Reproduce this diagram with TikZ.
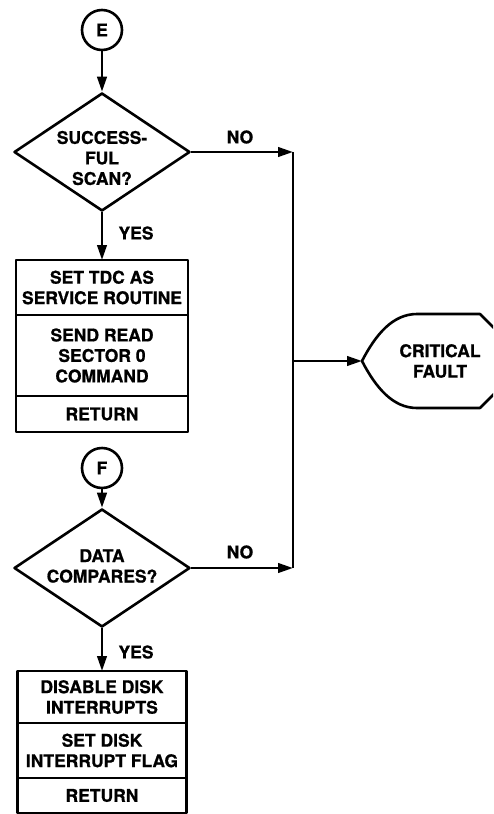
\documentclass[tikz,border=0pt]{standalone}
\usepackage{fontspec}
\setmainfont{TeX Gyre Heros}[BoldFeatures={FakeBold=0.8}]
\usetikzlibrary{shapes.geometric,arrows.meta}
\begin{document}
\begin{tikzpicture}[x=1pt,y=-1pt,
  line width=2.6pt, line join=round,
  txtfont/.style={font=\bfseries\fontsize{17.5}{20.5}\selectfont},
  lbl/.style={txtfont, align=center, inner sep=0pt},
  conn/.style={draw, circle, minimum size=40pt, inner sep=0pt, txtfont},
  dec/.style={draw, diamond, minimum width=176pt, minimum height=118pt, inner sep=0pt},
  cell/.style={draw, rectangle, inner sep=0pt, outer sep=0pt, align=center, txtfont},
  flow/.style={-{Triangle[length=15pt,width=9.5pt]}}
]
\clip (0,0) rectangle (493,814);

% ---- scan check (entry E) ----
\node[conn] (E) at (102,30) {E};
\node[dec] (d1) at (102,152) {};
\node[lbl] (d1t) at (102,158) {SUCCESS-\\FUL\\SCAN?};

\node[cell, minimum width=172pt, minimum height=55pt] (b1a) at (102,287.5) {SET TDC AS\\SERVICE ROUTINE};
\node[cell, minimum width=172pt, minimum height=81pt, anchor=north] (b1b) at (b1a.south) {SEND READ\\SECTOR 0\\COMMAND};
\node[cell, minimum width=172pt, minimum height=36pt, anchor=north] (b1c) at (b1b.south) {RETURN};

% ---- data compare (entry F) ----
\node[conn] (F) at (102,468) {F};
\node[dec] (d2) at (102,568) {};
\node[lbl] (d2t) at (102,566) {DATA\\COMPARES?};

\node[cell, minimum width=169pt, minimum height=52pt] (b2a) at (102,697) {DISABLE DISK\\INTERRUPTS};
\node[cell, minimum width=169pt, minimum height=55pt, anchor=north] (b2b) at (b2a.south) {SET DISK\\INTERRUPT FLAG};
\node[cell, minimum width=169pt, minimum height=35pt, anchor=north] (b2c) at (b2b.south) {RETURN};

% ---- critical fault terminal ----
\coordinate (cftip) at (362,361);
\draw (cftip) .. controls (376,334) and (393,314) .. (417,314) -- (480,314) -- (527,361)
      -- (480,408) -- (417,408) .. controls (393,408) and (376,388) .. (cftip) -- cycle;
\node[lbl] (cf) at (440,361) {CRITICAL\\FAULT};

% ---- collector line ----
\coordinate (j1) at (293,152);
\coordinate (j2) at (293,568);
\coordinate (jm) at (293,361);

% ---- connectors ----
\draw[flow] (E) -- (d1);
\draw[flow] (d1) -- (b1a);
\draw[flow] (F) -- (d2);
\draw[flow] (d2) -- (b2a);
\draw[flow] (d1.east) -- (j1);
\draw[flow] (d2.east) -- (j2);
\draw (j1) -- (j2);
\draw[flow] (jm) -- (cftip);

% ---- branch labels ----
\node[lbl] (no1) at (240,137) {NO};
\node[lbl] (yes1) at (136,233) {YES};
\node[lbl] (no2) at (240,552) {NO};
\node[lbl] (yes2) at (136,652) {YES};
\end{tikzpicture}
\end{document}
